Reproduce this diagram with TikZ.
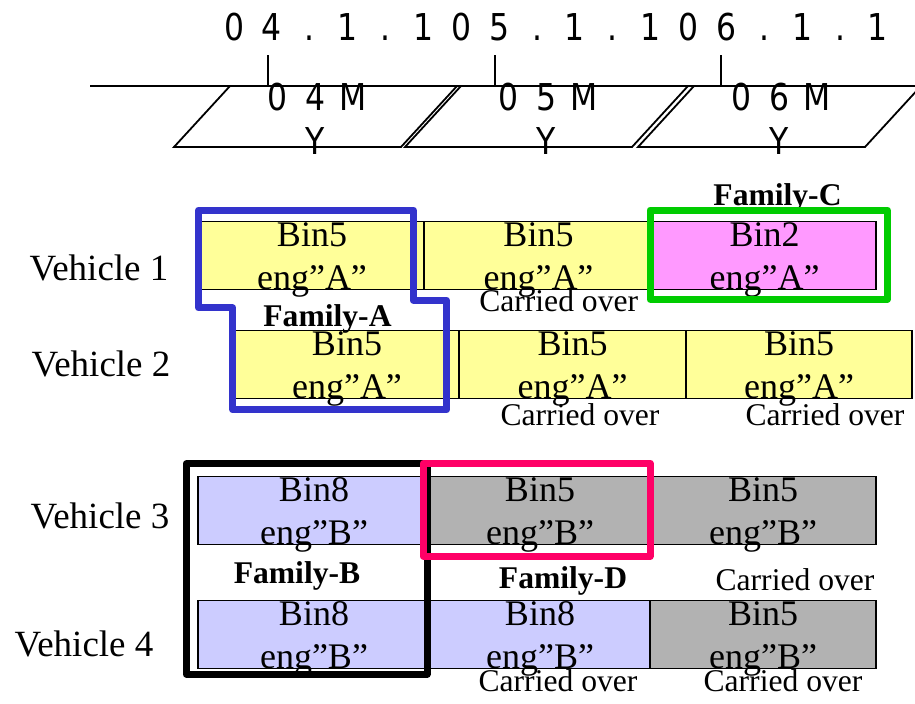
\documentclass[tikz,border=0pt]{standalone}
\usepackage{fontspec}
\setmainfont{Liberation Serif}
\newfontfamily\gothic{DejaVu Sans}[FakeStretch=0.85]
\usepackage{xcolor}
\usetikzlibrary{positioning}

\definecolor{binyellow}{HTML}{FFFF99}
\definecolor{binlav}{HTML}{CCCCFF}
\definecolor{bingray}{HTML}{B2B2B2}
\definecolor{binpink}{HTML}{FF99FF}
\definecolor{famblue}{HTML}{3333CC}
\definecolor{famgreen}{HTML}{00CC00}
\definecolor{famred}{HTML}{FF0066}

% every character in a full-width cell
\makeatletter
\newcommand\cellchars[1]{\@tfor\cc@tok:=#1\do{\makebox[18.94pt]{\cc@tok}}}
\makeatother

\begin{document}
\begin{tikzpicture}[
    x=0.5pt, y=-0.5pt,
    bin/.style={draw, line width=0.75pt, inner sep=0pt, outer sep=0pt, minimum height=33pt,
        text height=34pt, text depth=-1pt, align=center, font=\fontsize{18}{21.5}\selectfont},
    vlabel/.style={anchor=base, inner sep=0pt, font=\fontsize{18.5}{21.5}\selectfont},
    carried/.style={anchor=base, inner sep=0pt, font=\fontsize{15.8}{18}\selectfont},
    family/.style={anchor=base, inner sep=0pt, font=\fontsize{15.8}{18}\selectfont\bfseries},
    fambox/.style={line width=3.5pt, line join=round},
    axis/.style={line width=0.9pt},
    year/.style={align=center, inner sep=0pt, font=\gothic\fontsize{18.5}{22}\selectfont}
]
    \useasboundingbox (0,0) rectangle (915,703);

    % time axis
    \node[anchor=base, inner sep=0pt, font=\gothic\fontsize{18.5}{22}\selectfont] (dates) at (556,40) {\cellchars{04.1.105.1.106.1.1}};
    \draw[axis] (90,86) -- (915,86);
    \foreach \t in {268.3,495,721}
        \draw[axis] (\t,55) -- (\t,86);
    \foreach \bx/\yr [count=\i] in {174/4,405/5,638/6} {
        \draw[axis] (\bx,147) -- ++(227,0) -- ++(56,-61) -- ++(-227,0) -- cycle;
        \node[year] (my\i) at (\bx+141.5,119) {\cellchars{0\yr M}\\\cellchars{Y}};
    }

    % vehicles
    \node[vlabel] (veh1) at (99,280.7) {Vehicle 1};
    \node[vlabel] (veh2) at (101,376) {Vehicle 2};
    \node[vlabel] (veh3) at (100,528.3) {Vehicle 3};
    \node[vlabel] (veh4) at (84,656.7) {Vehicle 4};

    \node[bin, fill=binyellow, minimum width=112pt, anchor=north west] (v1a) at (200,221.5) {Bin5\\eng”A”};
    \node[bin, fill=binyellow, minimum width=114.5pt, right=0pt of v1a] (v1b) {Bin5\\eng”A”};
    \node[bin, fill=binpink, minimum width=111.5pt, right=0pt of v1b] (v1c) {Bin2\\eng”A”};

    \node[bin, fill=binyellow, minimum width=112pt, anchor=north west] (v2a) at (235,330.5) {Bin5\\eng”A”};
    \node[bin, fill=binyellow, minimum width=113.5pt, right=0pt of v2a] (v2b) {Bin5\\eng”A”};
    \node[bin, fill=binyellow, minimum width=113pt, right=0pt of v2b] (v2c) {Bin5\\eng”A”};

    \node[bin, fill=binlav, minimum width=116pt, anchor=north west] (v3a) at (198,476.5) {Bin8\\eng”B”};
    \node[bin, fill=bingray, minimum width=110pt, right=0pt of v3a] (v3b) {Bin5\\eng”B”};
    \node[bin, fill=bingray, minimum width=113pt, right=0pt of v3b] (v3c) {Bin5\\eng”B”};

    \node[bin, fill=binlav, minimum width=116pt, anchor=north west] (v4a) at (198,600.5) {Bin8\\eng”B”};
    \node[bin, fill=binlav, minimum width=110pt, right=0pt of v4a] (v4b) {Bin8\\eng”B”};
    \node[bin, fill=bingray, minimum width=113pt, right=0pt of v4b] (v4c) {Bin5\\eng”B”};

    \node[carried] (co1b) at (558.7,311.7) {Carried over};
    \node[carried] (co2b) at (580,425) {Carried over};
    \node[carried] (co2c) at (825,425) {Carried over};
    \node[carried] (co3c) at (795,590) {Carried over};
    \node[carried] (co4b) at (558,691) {Carried over};
    \node[carried] (co4c) at (783,691) {Carried over};

    % families
    \node[family] (famA) at (327.5,326) {Family-A};
    \node[family] (famB) at (297,583.3) {Family-B};
    \node[family] (famC) at (777.5,205) {Family-C};
    \node[family] (famD) at (563,588.3) {Family-D};

    \draw[fambox, famblue] (198.5,210) -- (413.3,210) -- (413.3,300.3) -- (446.7,300.3)
        -- (446.7,409.7) -- (232.7,409.7) -- (232.7,307.8) -- (198.5,307.8) -- cycle;
    \draw[fambox, famgreen] (650,210) rectangle (887.3,299.3);
    \draw[fambox, black] (186.3,463.7) rectangle (427,674.2);
    \draw[fambox, famred] (423.3,463.3) rectangle (650,556.3);
\end{tikzpicture}
\end{document}
